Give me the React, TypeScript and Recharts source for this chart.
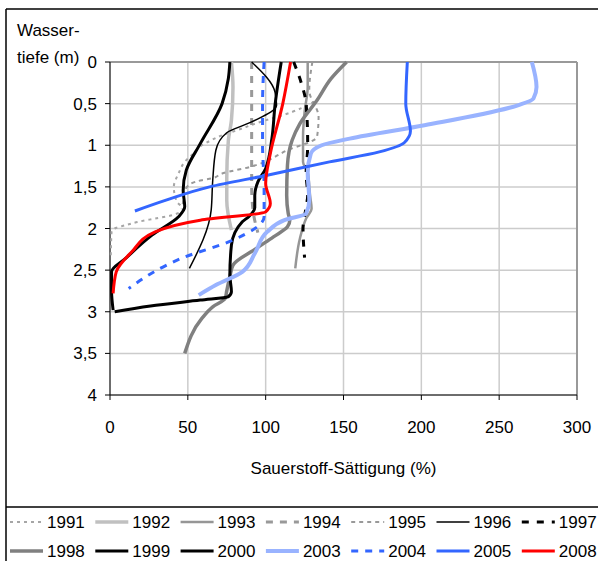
import { ScatterChart, Scatter, XAxis, YAxis, CartesianGrid, ReferenceLine } from "recharts";

// Sauerstoff-Sättigung (%) je Wassertiefe (m)
const sat1991 = [131, 117, 95, 80, 72, 65, 59, 53.5, 48, 44, 41, 43, 47, 40, 29, 18, 10, 3, 1, 0.5];
const depth1991 = [0.48, 0.6, 0.73, 0.83, 0.88, 0.94, 1.0, 1.1, 1.2, 1.34, 1.5, 1.68, 1.76, 1.84, 1.88, 1.92, 1.96, 2.0, 2.04, 2.35];

const sat1992 = [78, 79, 78, 76, 75, 75, 78];
const depth1992 = [0, 0.3, 0.7, 0.95, 1.4, 1.66, 2.02];

const sat1993 = [127, 127, 125, 124, 124, 127, 128.5, 129.5, 126, 122, 119];
const depth1993 = [0, 0.3, 0.6, 0.9, 1.2, 1.32, 1.6, 1.76, 1.88, 2.12, 2.48];

const sat1994 = [91, 91, 91, 91, 92, 95];
const depth1994 = [0, 0.5, 1.0, 1.5, 1.8, 2.05];

const sat1995 = [130, 128, 134, 133, 114, 90, 72, 65, 59, 52, 48, 47, 46];
const depth1995 = [0, 0.34, 0.66, 0.9, 1.06, 1.26, 1.34, 1.4, 1.42, 1.46, 1.55, 1.68, 1.76];

const sat1996 = [91, 106, 107, 91, 75, 68, 66, 65, 51];
const depth1996 = [0, 0.36, 0.52, 0.72, 0.85, 1.06, 1.42, 1.78, 2.48];

const sat1997 = [118, 123, 126, 127, 126, 127, 126, 124, 125];
const depth1997 = [0, 0.26, 0.5, 1.0, 1.34, 1.6, 1.74, 2.0, 2.35];

const sat1998 = [152, 142, 133, 122, 117, 114, 113.5, 114.5, 115.5, 114, 105, 94, 79, 77, 75, 74, 66, 59, 48];
const depth1998 = [0, 0.2, 0.46, 0.74, 0.94, 1.24, 1.6, 1.82, 1.9, 1.98, 2.1, 2.24, 2.44, 2.58, 2.75, 2.84, 2.94, 3.08, 3.5];

const sat1999 = [77, 76, 72, 58, 49, 47, 48, 44, 27, 10, 1, 1, 2];
const depth1999 = [0, 0.2, 0.5, 0.98, 1.3, 1.54, 1.74, 1.86, 2.08, 2.36, 2.52, 2.75, 2.98];

const sat2000 = [110, 106, 104, 100, 95, 93, 93, 89, 85, 78, 77, 78, 76, 58, 26, 3];
const depth2000 = [0, 0.52, 0.92, 1.28, 1.44, 1.6, 1.75, 1.86, 1.92, 2.2, 2.56, 2.76, 2.82, 2.86, 2.93, 3.0];

const sat2003 = [271, 274, 272, 262, 202, 154, 136, 129, 127, 128, 126, 112, 101, 93, 85, 68, 57];
const depth2003 = [0, 0.3, 0.44, 0.52, 0.76, 0.92, 1.0, 1.1, 1.33, 1.66, 1.82, 1.9, 2.04, 2.3, 2.52, 2.68, 2.8];

const sat2004 = [99, 98, 98, 99, 99, 79, 47, 12];
const depth2004 = [0, 0.5, 1.0, 1.5, 1.86, 2.14, 2.35, 2.72];

const sat2005 = [191, 190, 193, 189, 173, 141, 101, 64, 36, 16];
const depth2005 = [0, 0.5, 0.83, 0.97, 1.08, 1.2, 1.36, 1.5, 1.66, 1.79];

const sat2008 = [116, 111, 103, 100, 103, 100, 58, 29, 14, 4, 2];
const depth2008 = [0, 0.5, 1.1, 1.46, 1.7, 1.8, 1.9, 2.04, 2.28, 2.52, 2.78];

const xTicks = [0, 50, 100, 150, 200, 250, 300];
const yTicks = [0, 0.5, 1, 1.5, 2, 2.5, 3, 3.5, 4];

const toPoints = (sat: number[], depth: number[]) => sat.map((x, i) => ({ x, y: depth[i] }));

const series = [
  { name: "1991", sat: sat1991, depth: depth1991, stroke: "#a6a6a6", width: 2, dash: "3 4" },
  { name: "1992", sat: sat1992, depth: depth1992, stroke: "#c0c0c0", width: 3.5, dash: undefined },
  { name: "1993", sat: sat1993, depth: depth1993, stroke: "#969696", width: 2.5, dash: undefined },
  { name: "1994", sat: sat1994, depth: depth1994, stroke: "#999999", width: 3, dash: "7 7" },
  { name: "1995", sat: sat1995, depth: depth1995, stroke: "#999999", width: 2, dash: "4 4" },
  { name: "1996", sat: sat1996, depth: depth1996, stroke: "#000000", width: 1.5, dash: undefined },
  { name: "1997", sat: sat1997, depth: depth1997, stroke: "#000000", width: 3, dash: "7 8" },
  { name: "1998", sat: sat1998, depth: depth1998, stroke: "#808080", width: 3.5, dash: undefined },
  { name: "1999", sat: sat1999, depth: depth1999, stroke: "#000000", width: 3, dash: undefined },
  { name: "2000", sat: sat2000, depth: depth2000, stroke: "#000000", width: 3, dash: undefined },
  { name: "2003", sat: sat2003, depth: depth2003, stroke: "#99b3ff", width: 4, dash: undefined },
  { name: "2004", sat: sat2004, depth: depth2004, stroke: "#3366ff", width: 3, dash: "7 7" },
  { name: "2005", sat: sat2005, depth: depth2005, stroke: "#3366ff", width: 3, dash: undefined },
  { name: "2008", sat: sat2008, depth: depth2008, stroke: "#ff0000", width: 3, dash: undefined },
];

const font = '"Liberation Sans", Arial, sans-serif';
const noDot = () => <g />;

function Legend() {
  return (
    <g>
      {series.map((s, i) => {
        const x0 = 10 + 85.3 * (i % 7);
        const row = Math.floor(i / 7);
        const ly = row === 0 ? 522 : 551;
        return (
          <g key={s.name}>
            <line x1={x0} x2={x0 + 33} y1={ly} y2={ly} stroke={s.stroke} strokeWidth={s.width}
              strokeDasharray={s.dash} />
            <text x={x0 + 37} y={ly + 5.5} fontSize={17} fontFamily={font} fill="#000">{s.name}</text>
          </g>
        );
      })}
    </g>
  );
}

export default function App() {
  return (
    <div style={{ position: "absolute", left: 0, top: 0, width: 598, height: 561, overflow: "hidden", background: "#fff" }}>
      <div style={{ position: "absolute", left: 0, top: 0 }}>
        <ScatterChart width={598} height={500} margin={{ top: 62, right: 21, bottom: 75, left: 60 }}>
          <CartesianGrid stroke="#cccccc" strokeWidth={1.5} />
          <XAxis type="number" dataKey="x" domain={[0, 300]} ticks={xTicks} interval={0}
            height={30} tickSize={5} tickMargin={21}
            axisLine={{ stroke: "#000" }} tickLine={{ stroke: "#000" }}
            tick={{ fontSize: 17, fontFamily: font, fill: "#000" }} />
          <YAxis type="number" dataKey="y" domain={[0, 4]} ticks={yTicks} interval={0} reversed
            width={50} tickSize={5} tickMargin={8}
            axisLine={{ stroke: "#000" }} tickLine={{ stroke: "#000" }}
            tick={{ fontSize: 17, fontFamily: font, fill: "#000" }}
            tickFormatter={(v: number) => String(v).replace(".", ",")} />
          <ReferenceLine y={0} stroke="#999" strokeWidth={2} />
          <ReferenceLine x={300} stroke="#999" strokeWidth={2} />
          {series.map((s) => (
            <Scatter key={s.name} name={s.name} data={toPoints(s.sat, s.depth)} fill={s.stroke}
              line={{ stroke: s.stroke, strokeWidth: s.width, strokeDasharray: s.dash }}
              lineJointType="monotoneY" shape={noDot} isAnimationActive={false} />
          ))}
        </ScatterChart>
      </div>
      <svg width={598} height={561} style={{ position: "absolute", left: 0, top: 0, pointerEvents: "none" }}>
        <line x1={6} x2={6} y1={9} y2={561} stroke="#000" strokeWidth={1.5} />
        <line x1={6} x2={598} y1={9} y2={9} stroke="#000" strokeWidth={1.5} />
        <line x1={6} x2={598} y1={507} y2={507} stroke="#000" strokeWidth={1.5} />
        <text x={17} y={36} fontSize={17} fontFamily={font}>Wasser-</text>
        <text x={17} y={63} fontSize={17} fontFamily={font}>tiefe (m)</text>
        <text x={343.5} y={474} fontSize={17} fontFamily={font} textAnchor="middle">Sauerstoff-Sättigung (%)</text>
        <Legend />
      </svg>
    </div>
  );
}
